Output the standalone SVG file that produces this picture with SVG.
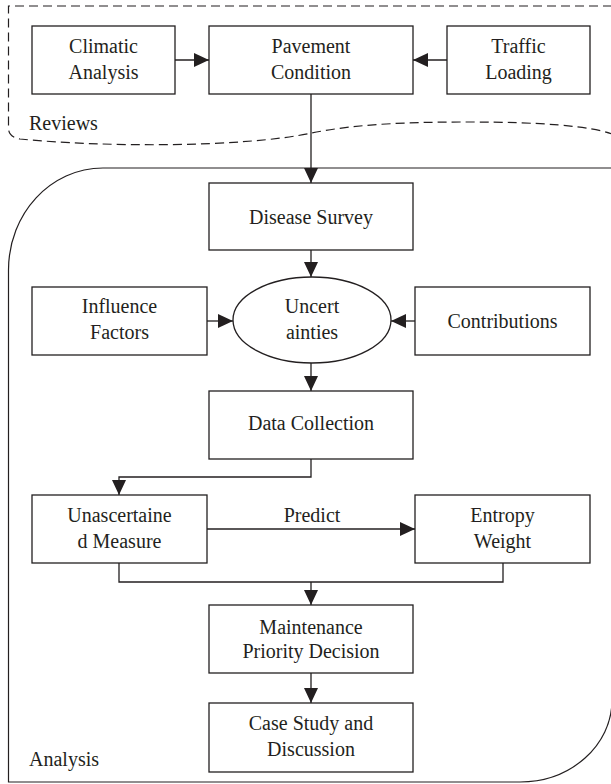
<svg xmlns="http://www.w3.org/2000/svg" width="611" height="784" viewBox="0 0 611 784">
<style>
.box{fill:#fff;stroke:#231f20;stroke-width:1.3}
.t{font-family:"Liberation Serif","Times New Roman",serif;font-size:20px;fill:#231f20;text-anchor:middle}
.tl{font-family:"Liberation Serif","Times New Roman",serif;font-size:20px;fill:#231f20}
.c{fill:none;stroke:#231f20;stroke-width:1.3}
.region{fill:none;stroke:#231f20;stroke-width:1.2}
</style>
<defs>
<marker id="ah" markerUnits="userSpaceOnUse" markerWidth="16" markerHeight="15" refX="15" refY="7" orient="auto">
<path d="M0,0 L15,7 L0,14 Z" fill="#231f20"/>
</marker>
</defs>
<g id="reviews-region">
<path class="region" stroke-dasharray="9 5" d="M612,6 L8.5,6 L8.5,128 Q8.5,137 20,139 C100,147 240,148 312,133 C360,123 420,122 470,122 C540,122 590,126 612,134"/>
<text class="tl" x="29" y="130">Reviews</text>
</g>
<g id="analysis-region">
<path class="region" d="M612,168 L103,168 C50.6,168 8.5,213.7 8.5,270 L8.5,782 L520,782 C570.8,782 612,745.3 612,700"/>
<text class="tl" x="29" y="766">Analysis</text>
</g>
<g id="connectors">
<path class="c" d="M175,60 L209,60" marker-end="url(#ah)"/>
<path class="c" d="M447,60 L413,60" marker-end="url(#ah)"/>
<path class="c" d="M311,94 L311,183" marker-end="url(#ah)"/>
<path class="c" d="M311,250 L311,277" marker-end="url(#ah)"/>
<path class="c" d="M207,321 L233,321" marker-end="url(#ah)"/>
<path class="c" d="M415,321 L391,321" marker-end="url(#ah)"/>
<path class="c" d="M311,363 L311,391" marker-end="url(#ah)"/>
<path class="c" d="M311,459 L311,477 L119,477 L119,495" marker-end="url(#ah)"/>
<path class="c" d="M207,529 L415,529" marker-end="url(#ah)"/>
<text class="t" x="312" y="522">Predict</text>
<path class="c" d="M119,563 L119,582 L503,582 L503,563"/>
<path class="c" d="M311,582 L311,605" marker-end="url(#ah)"/>
<path class="c" d="M311,673 L311,703" marker-end="url(#ah)"/>
</g>
<g id="climatic">
<rect class="box" x="32" y="26" width="143" height="68"/>
<text class="t" x="103.5" y="53">Climatic</text>
<text class="t" x="103.5" y="79">Analysis</text>
</g>
<g id="pavement">
<rect class="box" x="209" y="26" width="204" height="68"/>
<text class="t" x="311" y="53">Pavement</text>
<text class="t" x="311" y="79">Condition</text>
</g>
<g id="traffic">
<rect class="box" x="447" y="26" width="143" height="68"/>
<text class="t" x="518.5" y="53">Traffic</text>
<text class="t" x="518.5" y="79">Loading</text>
</g>
<g id="disease">
<rect class="box" x="209" y="183" width="204" height="67"/>
<text class="t" x="311" y="224">Disease Survey</text>
</g>
<g id="influence">
<rect class="box" x="32" y="287" width="175" height="68"/>
<text class="t" x="119.5" y="313">Influence</text>
<text class="t" x="119.5" y="339">Factors</text>
</g>
<g id="uncertainties">
<ellipse class="box" cx="312" cy="320" rx="79" ry="43"/>
<text class="t" x="312" y="313">Uncert</text>
<text class="t" x="312" y="339">ainties</text>
</g>
<g id="contributions">
<rect class="box" x="415" y="287" width="175" height="68"/>
<text class="t" x="502.5" y="328">Contributions</text>
</g>
<g id="data">
<rect class="box" x="209" y="391" width="204" height="68"/>
<text class="t" x="311" y="430">Data Collection</text>
</g>
<g id="unascertained">
<rect class="box" x="32" y="495" width="175" height="68"/>
<text class="t" x="119.5" y="522">Unascertaine</text>
<text class="t" x="119.5" y="548">d Measure</text>
</g>
<g id="entropy">
<rect class="box" x="415" y="495" width="175" height="68"/>
<text class="t" x="502.5" y="522">Entropy</text>
<text class="t" x="502.5" y="548">Weight</text>
</g>
<g id="maintenance">
<rect class="box" x="209" y="605" width="204" height="68"/>
<text class="t" x="311" y="634">Maintenance</text>
<text class="t" x="311" y="658">Priority Decision</text>
</g>
<g id="case">
<rect class="box" x="209" y="703" width="204" height="69"/>
<text class="t" x="311" y="730">Case Study and</text>
<text class="t" x="311" y="756">Discussion</text>
</g>
</svg>
